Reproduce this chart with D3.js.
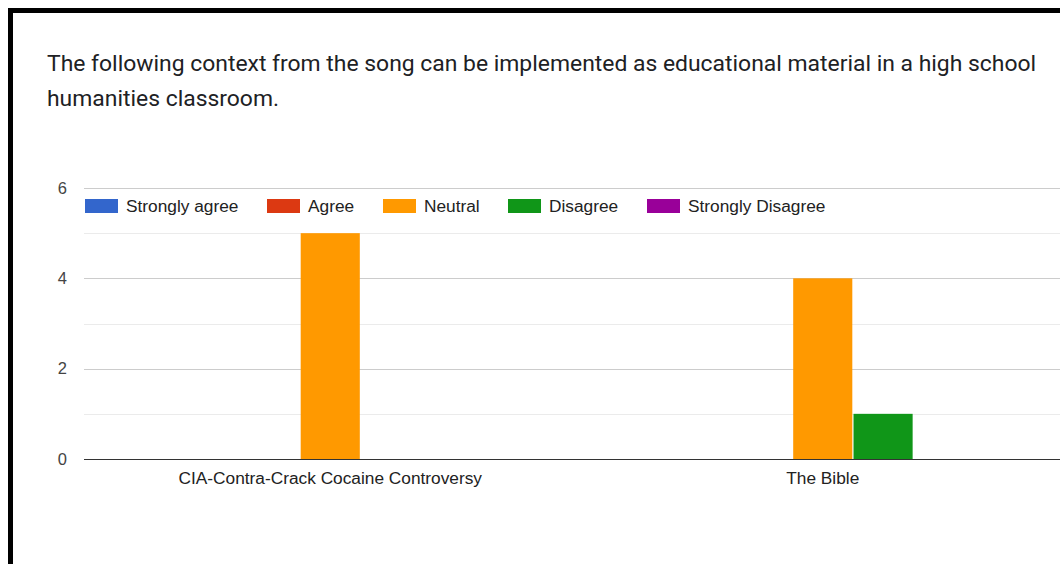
<!DOCTYPE html>
<html>
<head>
<meta charset="utf-8">
<script src="https://cdn.jsdelivr.net/npm/d3@7"></script>
<style>
  html, body { margin: 0; padding: 0; background: #fff; }
  svg { display: block; }
</style>
</head>
<body>
<svg id="chart" width="1060" height="564"></svg>
<script>
// Survey responses per statement
const categories = ["CIA-Contra-Crack Cocaine Controversy", "The Bible"];
const seriesNames = ["Strongly agree", "Agree", "Neutral", "Disagree", "Strongly Disagree"];
const seriesColors = ["#3366cc", "#dc3912", "#ff9900", "#109618", "#990099"];
const ciaValues = [0, 0, 5, 0, 0];
const bibleValues = [0, 0, 4, 1, 0];
const yTicks = [0, 2, 4, 6];
const titleLines = [
  "The following context from the song can be implemented as educational material in a high school",
  "humanities classroom."
];

const table = categories.map((c, i) => ({
  category: c,
  values: [ciaValues, bibleValues][i]
}));

const svg = d3.select("#chart");
const labelFont = "Arial, 'Liberation Sans', sans-serif";
const labelSize = 17.3;

// Frame around the card
svg.append("rect").attr("x", 10.5).attr("y", 10.5).attr("width", 1100).attr("height", 600)
  .attr("fill", "none").attr("stroke", "#000").attr("stroke-width", 5);

// Title
svg.append("g").selectAll("text").data(titleLines).join("text")
  .attr("x", 47).attr("y", (d, i) => 71 + i * 35)
  .attr("font-family", "Roboto, 'Open Sans', sans-serif")
  .attr("font-size", 22.9)
  .attr("fill", "#202124")
  .text(d => d);

const plot = { left: 84, right: 1069, top: 188, bottom: 459 };

const x = d3.scaleBand().domain(categories).range([plot.left, plot.right])
  .paddingInner(0.39).paddingOuter(0.195);
const xs = d3.scaleBand().domain(seriesNames).range([0, x.bandwidth()]).paddingInner(0.02);
const y = d3.scaleLinear().domain([0, 6]).range([plot.bottom, plot.top]);

// Gridlines: minor every 1, major every 2
const grid = svg.append("g");
grid.selectAll("line").data(d3.range(1, 7)).join("line")
  .attr("x1", plot.left).attr("x2", 1060)
  .attr("y1", d => Math.round(y(d)) + 0.5).attr("y2", d => Math.round(y(d)) + 0.5)
  .attr("stroke", d => d % 2 === 0 ? "#cccccc" : "#ebebeb")
  .attr("stroke-width", 1);

// Y axis labels
const yAxis = d3.axisLeft(y).tickValues(yTicks).tickSize(0).tickPadding(0).tickFormat(d3.format("d"));
const yg = svg.append("g").attr("transform", `translate(67,0)`).call(yAxis);
yg.select(".domain").remove();
yg.selectAll("text")
  .attr("font-family", labelFont)
  .attr("font-size", 16.5).attr("fill", "#444");

// Bars
svg.append("g").selectAll("g").data(table).join("g")
  .attr("transform", d => `translate(${x(d.category)},0)`)
  .selectAll("rect").data(d => d.values.map((v, i) => ({ v, i })).filter(e => e.v > 0)).join("rect")
  .attr("x", e => xs(seriesNames[e.i]))
  .attr("y", e => y(e.v))
  .attr("width", xs.bandwidth())
  .attr("height", e => y(0) - y(e.v))
  .attr("fill", e => seriesColors[e.i]);

// Baseline
svg.append("line").attr("x1", plot.left).attr("x2", 1060)
  .attr("y1", Math.round(y(0)) + 0.5).attr("y2", Math.round(y(0)) + 0.5)
  .attr("stroke", "#333").attr("stroke-width", 1);

// X axis labels
const xAxis = d3.axisBottom(x).tickSize(0).tickPadding(0);
const xg = svg.append("g").attr("transform", `translate(0,${plot.bottom + 25})`).call(xAxis);
xg.select(".domain").remove();
xg.selectAll("text").attr("dy", "0")
  .attr("font-family", labelFont)
  .attr("font-size", labelSize).attr("fill", "#222");

// Legend
const legendX = [85, 267, 383, 508, 647];
const legend = svg.append("g").selectAll("g").data(seriesNames).join("g")
  .attr("transform", (d, i) => `translate(${legendX[i]},199)`);
legend.append("rect").attr("width", 33).attr("height", 14)
  .attr("fill", (d, i) => seriesColors[i]);
legend.append("text").attr("x", 41).attr("y", 13)
  .attr("font-family", labelFont)
  .attr("font-size", labelSize).attr("fill", "#222")
  .text(d => d);
</script>
</body>
</html>
